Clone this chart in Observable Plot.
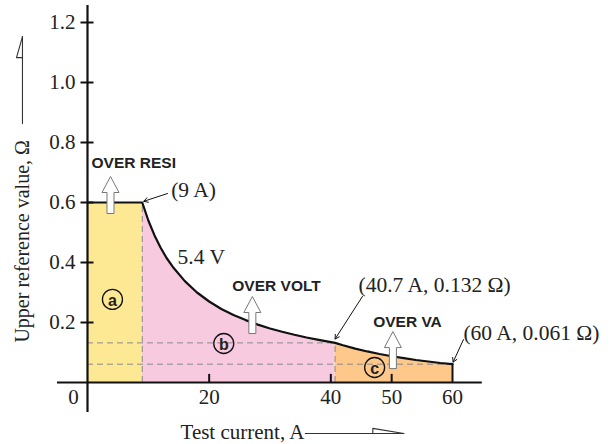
<!DOCTYPE html>
<html>
<head>
<meta charset="utf-8">
<script src="https://cdn.jsdelivr.net/npm/d3@7"></script>
<script src="https://cdn.jsdelivr.net/npm/@observablehq/plot@0.6"></script>
<style>
  html, body { margin: 0; padding: 0; background: #fff; }
  svg { display: block; }
</style>
</head>
<body>
<div id="chart"></div>
<script>
// ---- data ----
const resistI = [0, 9];
const resistR = [0.6, 0.6];
const voltI = [9, 10, 11, 12, 13, 14, 16, 18, 20, 22, 24, 26, 28, 30, 32, 34, 36, 38, 40.7];
const voltR = [0.600, 0.540, 0.491, 0.450, 0.415, 0.386, 0.338, 0.300, 0.270, 0.245, 0.225, 0.208, 0.193, 0.180, 0.169, 0.159, 0.150, 0.142, 0.132];
const vaI = [40.7, 42, 44, 46, 48, 50, 52, 54, 56, 58, 60];
const vaR = [0.132, 0.124, 0.113, 0.1035, 0.095, 0.0876, 0.081, 0.075, 0.070, 0.065, 0.061];
const breakI = [9, 40.7, 60];
const breakR = [0.6, 0.132, 0.061];
const yTicks = [0.2, 0.4, 0.6, 0.8, 1.0, 1.2];
const yTickLabels = ["0.2", "0.4", "0.6", "0.8", "1.0", "1.2"];
const xTicks = [20, 40, 50];
const xTickLabels = ["20", "40", "50", "60"];
const xLabelValues = [20, 40, 50, 60];
const regionLabels = ["a", "b", "c"];

const zip = (xs, ys) => xs.map((x, i) => ({x, y: ys[i]}));
const flat = zip(resistI, resistR);
const volt = zip(voltI, voltR);
const va = zip(vaI, vaR);
const curve = [...flat, ...volt.slice(1), ...va.slice(1)];

const serif = "Liberation Serif, Times New Roman, serif";
const sans = "Liberation Sans, Arial, sans-serif";

// hollow up-arrow symbol
const hollowArrow = {
  draw(ctx) {
    ctx.moveTo(0, -18.5);
    ctx.lineTo(8.5, -2.5);
    ctx.lineTo(3.5, -2.5);
    ctx.lineTo(3.5, 18.5);
    ctx.lineTo(-3.5, 18.5);
    ctx.lineTo(-3.5, -2.5);
    ctx.lineTo(-8.5, -2.5);
    ctx.closePath();
  }
};

const chart = Plot.plot({
  width: 610,
  height: 444,
  margin: 0,
  style: {background: "white", overflow: "visible"},
  x: {domain: [0, 60], range: [87, 452], axis: null},
  y: {domain: [0, 1.2], range: [382, 22], axis: null},
  marks: [
    // filled regions
    Plot.areaY(flat, {x: "x", y: "y", fill: "#fde993"}),
    Plot.areaY(volt, {x: "x", y: "y", fill: "#f8cadf"}),
    Plot.areaY(va, {x: "x", y: "y", fill: "#fdc88a"}),
    // dashed guides
    Plot.ruleX([breakI[0], breakI[1]], {x: d => d, y1: 0, y2: (d, i) => breakR[i], stroke: "#8a8a8a", strokeWidth: 1, strokeDasharray: "6,4"}),
    Plot.ruleY([breakR[1], breakR[2]], {y: d => d, x1: 0, x2: (d, i) => breakI[i + 1], stroke: "#8a8a8a", strokeWidth: 1, strokeDasharray: "6,4"}),
    // curve
    Plot.line(curve, {x: "x", y: "y", stroke: "#111", strokeWidth: 2.2}),
    Plot.ruleX([breakI[2]], {y1: 0, y2: breakR[2], stroke: "#111", strokeWidth: 2}),
    // axes
    Plot.ruleY([0], {x1: -4.93, x2: 64.9, stroke: "#111", strokeWidth: 2.2}),
    Plot.ruleX([0], {y1: -0.1, y2: 1.257, stroke: "#111", strokeWidth: 2.2}),
    Plot.ruleY(yTicks, {x1: -1.07, x2: 1.07, stroke: "#111", strokeWidth: 2}),
    Plot.ruleX(xTicks, {y1: 0, y2: 0.027, stroke: "#111", strokeWidth: 2}),
    Plot.text(yTicks, {x: 0, y: d => d, text: (d, i) => yTickLabels[i], dx: -12, textAnchor: "end", fontFamily: serif, fontSize: 21, fill: "#222"}),
    Plot.text(xLabelValues, {x: d => d, y: 0, text: (d, i) => xTickLabels[i], dy: 15, fontFamily: serif, fontSize: 21, fill: "#222"}),
    Plot.text(["0"], {x: 0, y: 0, text: d => d, dx: -14, dy: 15, fontFamily: serif, fontSize: 21, fill: "#222"}),
    // axis titles
    Plot.text(["Upper reference value, Ω"], {x: -10.69, y: 0.133, text: d => d, rotate: -90, textAnchor: "start", fontFamily: serif, fontSize: 20, fill: "#222"}),
    Plot.line([{x: -10.69, y: 0.863}, {x: -10.69, y: 1.153}], {x: "x", y: "y", stroke: "#333", strokeWidth: 1.1}),
    Plot.line([{x: -10.69, y: 1.153}, {x: -11.67, y: 1.083}, {x: -10.69, y: 1.083}], {x: "x", y: "y", stroke: "#333", strokeWidth: 1.1}),
    Plot.text(["Test current, A"], {x: 15.29, y: -0.167, text: d => d, textAnchor: "start", fontFamily: serif, fontSize: 21, fill: "#222"}),
    Plot.line([{x: 35.8, y: -0.17}, {x: 52.0, y: -0.17}], {x: "x", y: "y", stroke: "#333", strokeWidth: 1.1}),
    Plot.line([{x: 52.0, y: -0.17}, {x: 46.9, y: -0.153}, {x: 46.9, y: -0.17}], {x: "x", y: "y", stroke: "#333", strokeWidth: 1.1}),
    // hollow arrows
    Plot.dot([{x: 3.78, y: 0.625}, {x: 27.1, y: 0.225}, {x: 50.2, y: 0.108}], {x: "x", y: "y", symbol: hollowArrow, r: 10, fill: "white", stroke: "#777", strokeWidth: 1}),
    // labels
    Plot.text(["OVER RESI", "OVER VOLT", "OVER VA"], {
      x: [7.6, 31.07, 52.6], y: [0.73, 0.323, 0.203], text: d => d,
      fontFamily: sans, fontWeight: "bold", fontSize: 15.5, fill: "#222"
    }),
    Plot.text(["(9 A)", "5.4 V", "(40.7 A, 0.132 Ω)", "(60 A, 0.061 Ω)"], {
      x: [13.75, 14.8, 44.55, 61.8], y: [0.64, 0.417, 0.323, 0.163], text: d => d,
      textAnchor: "start", fontFamily: serif, fontSize: 21.5, fill: "#222"
    }),
    // callout arrows
    Plot.arrow([
      {x1: 13.15, y1: 0.63, x2: 9.25, y2: 0.604},
      {x1: 45.2, y1: 0.287, x2: 40.7, y2: 0.145},
      {x1: 61.8, y1: 0.143, x2: 60.1, y2: 0.068}
    ], {x1: "x1", y1: "y1", x2: "x2", y2: "y2", stroke: "#111", strokeWidth: 1, headLength: 7}),
    // circled region letters
    Plot.dot([{x: 4.1, y: 0.277}, {x: 22.4, y: 0.13}, {x: 47.2, y: 0.05}], {x: "x", y: "y", r: 10, stroke: "#111", strokeWidth: 1.3, fill: "none"}),
    Plot.text(regionLabels, {
      x: [4.1, 22.4, 47.2], y: [0.277, 0.13, 0.05], text: d => d,
      fontFamily: sans, fontWeight: "bold", fontSize: 16, fill: "#222", dy: 1
    })
  ]
});
document.getElementById("chart").appendChild(chart);
</script>
</body>
</html>
